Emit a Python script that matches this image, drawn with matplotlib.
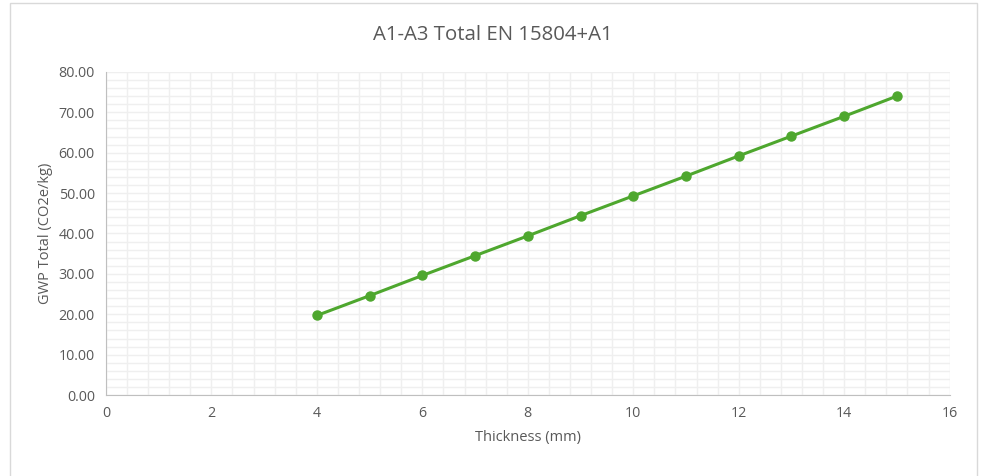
import matplotlib
matplotlib.use('Agg')
import matplotlib.pyplot as plt
from matplotlib.patches import Rectangle
from matplotlib.ticker import MultipleLocator, FormatStrFormatter

plt.rcParams['font.family'] = ['Open Sans', 'DejaVu Sans']

# Data
thickness = [4, 5, 6, 7, 8, 9, 10, 11, 12, 13, 14, 15]
gwp_total = [19.7, 24.6, 29.6, 34.5, 39.4, 44.4, 49.3, 54.2, 59.2, 64.1, 69.0, 74.0]

grey = '#595959'
green = '#4EA72E'

fig = plt.figure(figsize=(9.81, 4.76), dpi=100)
ax = fig.add_axes([0.108, 0.170, 0.860, 0.679])

# chart border like a spreadsheet chart frame
fig.patches.append(Rectangle((10 / 981, -0.01), 967 / 981, 1 - 3 / 476 + 0.01,
                             transform=fig.transFigure, fill=False,
                             edgecolor='#D9D9D9', linewidth=1))

ax.plot(thickness, gwp_total, '-o', color=green, linewidth=2.2, markersize=6.5, zorder=3)

ax.set_xlim(0, 16)
ax.set_ylim(0, 80)
ax.xaxis.set_major_locator(MultipleLocator(2))
ax.xaxis.set_minor_locator(MultipleLocator(0.4))
ax.yaxis.set_major_locator(MultipleLocator(10))
ax.yaxis.set_minor_locator(MultipleLocator(2))
ax.yaxis.set_major_formatter(FormatStrFormatter('%.2f'))

ax.grid(which='both', color='#EFEFEF', linewidth=1)
ax.set_axisbelow(True)
ax.tick_params(which='both', length=0, labelsize=10.3, colors=grey, pad=8)

for s in ['top', 'right']:
    ax.spines[s].set_visible(False)
for s in ['left', 'bottom']:
    ax.spines[s].set_color('#BFBFBF')

fig.text(493 / 981, 1 - 35 / 476, 'A1-A3 Total EN 15804+A1', fontsize=14.7,
         color=grey, ha='center', va='center')
ax.set_xlabel('Thickness (mm)', fontsize=10.5, color=grey, labelpad=6)
ax.set_ylabel('GWP Total (CO2e/kg)', fontsize=10.5, color=grey, labelpad=4)

fig.savefig('out.png', dpi=100)
